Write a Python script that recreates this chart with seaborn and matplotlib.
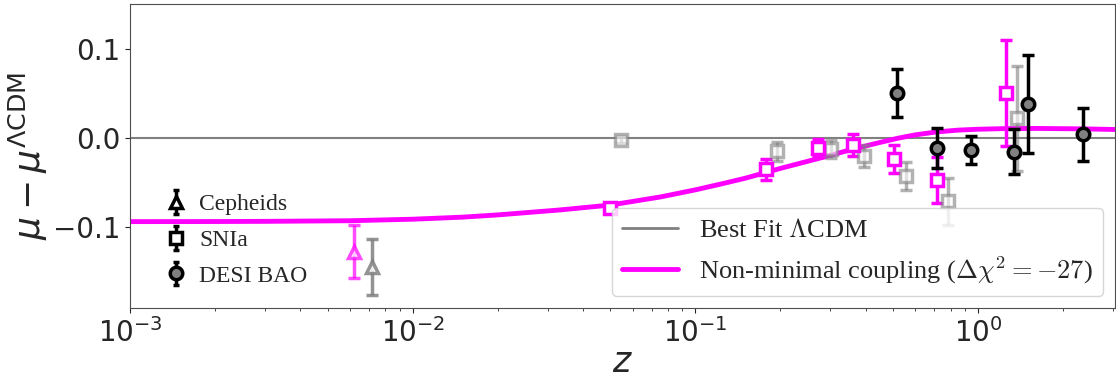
import matplotlib
matplotlib.use("Agg")
import matplotlib.pyplot as plt
from matplotlib.lines import Line2D
from matplotlib.font_manager import FontProperties
import numpy as np
import seaborn as sns

# model curve: mu - mu_LCDM for the non-minimal coupling fit
z_model = [0.001, 0.002, 0.003, 0.006, 0.01, 0.015, 0.02, 0.033, 0.05, 0.075, 0.1,
           0.125, 0.15, 0.178, 0.2, 0.25, 0.3, 0.36, 0.447, 0.52, 0.6, 0.714, 0.85,
           1.0, 1.25, 1.6, 2.36, 3.05]
dmu_model = [-0.0935, -0.0934, -0.0932, -0.0925, -0.0908, -0.0885, -0.086, -0.0805,
             -0.075, -0.066, -0.058, -0.051, -0.045, -0.0385, -0.034, -0.026, -0.0195,
             -0.0125, -0.0052, -0.0003, 0.0035, 0.0068, 0.0088, 0.0098, 0.0105, 0.0107,
             0.0102, 0.0095]

# Cepheids (grey = LCDM, magenta = coupling model)
ceph_z_grey = [0.0072]
ceph_mu_grey = [-0.144]
ceph_err_grey = [0.031]
ceph_z_mag = [0.0062]
ceph_mu_mag = [-0.127]
ceph_err_mag = [0.030]

# SNIa binned residuals
sn_z_grey = [0.0547, 0.195, 0.301, 0.395, 0.555, 0.785, 1.374]
sn_mu_grey = [-0.002, -0.015, -0.0125, -0.020, -0.0425, -0.071, 0.022]
sn_err_grey = [0.004, 0.011, 0.010, 0.012, 0.016, 0.026, 0.059]
sn_z_mag = [0.0497, 0.178, 0.272, 0.360, 0.505, 0.714, 1.253]
sn_mu_mag = [-0.0786, -0.035, -0.0115, -0.0078, -0.0235, -0.047, 0.0506]
sn_err_mag = [0.005, 0.012, 0.010, 0.0127, 0.0155, 0.0255, 0.059]

# DESI BAO
bao_z = [0.515, 0.714, 0.946, 1.336, 1.506, 2.36]
bao_mu = [0.050, -0.0115, -0.0134, -0.0153, 0.038, 0.0041]
bao_err = [0.027, 0.0223, 0.0153, 0.0248, 0.0544, 0.0298]

sns.set_style("ticks")
plt.rcParams['font.family'] = ['DejaVu Sans']
plt.rcParams['axes.edgecolor'] = '0.3'

fig, ax = plt.subplots(figsize=(11.16, 3.83), dpi=100)
fig.subplots_adjust(left=0.1165, right=0.999, bottom=0.196, top=0.99)

ax.axhline(0, color='gray', lw=1.5, zorder=1)
sns.lineplot(x=z_model, y=dmu_model, color='magenta', lw=3.5, ax=ax, zorder=2)

eb = dict(capsize=4.5, capthick=2.2, elinewidth=2.5, mew=2.5, ms=9, zorder=3)

# grey (LCDM) points
ax.errorbar(ceph_z_grey, ceph_mu_grey, yerr=ceph_err_grey, fmt='^', color='gray',
            mfc='white', alpha=0.85, **eb)
ax.errorbar(sn_z_grey, sn_mu_grey, yerr=sn_err_grey, fmt='s', color='gray',
            mfc='white', alpha=0.6, **eb)
# magenta (coupling) points
ax.errorbar(ceph_z_mag, ceph_mu_mag, yerr=ceph_err_mag, fmt='^', color='magenta',
            mfc='white', alpha=0.7, **eb)
ax.errorbar(sn_z_mag, sn_mu_mag, yerr=sn_err_mag, fmt='s', color='magenta',
            mfc='white', **eb)
# BAO
ax.errorbar(bao_z, bao_mu, yerr=bao_err, fmt='o', color='black', mfc='gray',
            mec='black', **eb)

ax.set_xscale('log')
ax.set_xlim(1e-3, 3.05)
ax.set_ylim(-0.19, 0.15)
ax.set_yticks([-0.1, 0.0, 0.1])
ax.tick_params(labelsize=20)
ax.set_xlabel('$z$', fontsize=25, math_fontfamily='dejavusans', labelpad=-2)
ax.set_ylabel(r'$\mu-\mu^{\Lambda\mathrm{CDM}}$', fontsize=26,
              math_fontfamily='dejavusans', labelpad=2)

# legend for the data sets
nan = [np.nan]
h_ceph = ax.errorbar(nan, nan, yerr=nan, fmt='^', color='k', mfc='white', mew=2.5, ms=9,
                     elinewidth=2.5, capsize=2, capthick=2)
h_sn = ax.errorbar(nan, nan, yerr=nan, fmt='s', color='k', mfc='white', mew=2.5, ms=9,
                   elinewidth=2.5, capsize=2, capthick=2)
h_bao = ax.errorbar(nan, nan, yerr=nan, fmt='o', color='k', mfc='gray', mew=2.5, ms=9,
                    elinewidth=2.5, capsize=2, capthick=2)
font1 = FontProperties(family='Liberation Serif', size=17, math_fontfamily='cm')
leg1 = ax.legend([h_ceph, h_sn, h_bao], ['Cepheids', 'SNIa', 'DESI BAO'], prop=font1,
                 loc='lower left', bbox_to_anchor=(0.013, 0.0), frameon=False,
                 handlelength=1.0, handletextpad=0.5, labelspacing=0.6)
ax.add_artist(leg1)

# legend for the models
font2 = FontProperties(family='Liberation Serif', size=19, math_fontfamily='cm')
h_lcdm = Line2D([], [], color='gray', lw=2)
h_nmc = Line2D([], [], color='magenta', lw=3.5)
leg2 = ax.legend([h_lcdm, h_nmc],
                 [r'Best Fit $\Lambda$CDM', r'Non-minimal coupling ($\Delta\chi^2=-27$)'],
                 prop=font2, loc='lower right', handlelength=2.1, labelspacing=0.45,
                 borderaxespad=0.45)
leg2.set_zorder(5)

fig.savefig('out.png', dpi=100)
